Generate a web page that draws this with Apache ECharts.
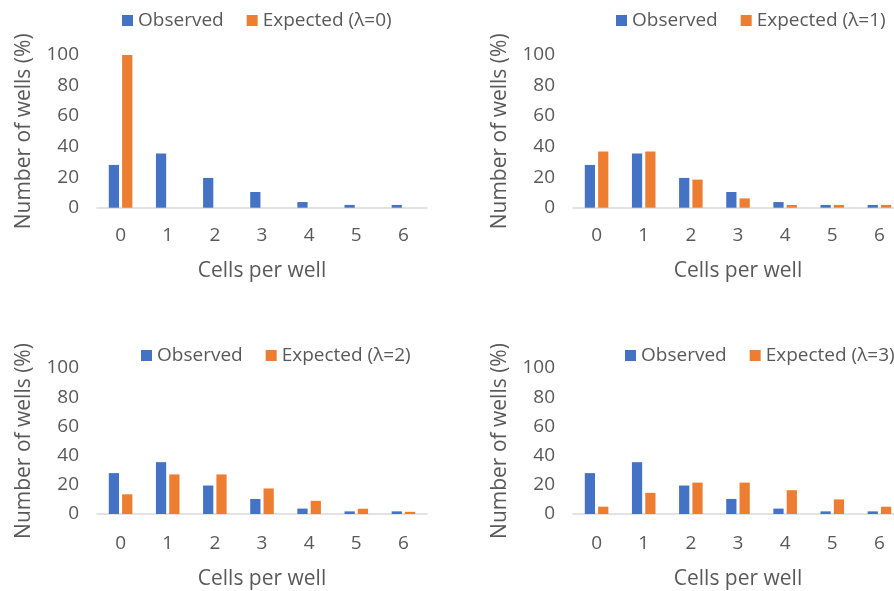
<!DOCTYPE html>
<html>
<head>
<meta charset="utf-8">
<script src="https://cdn.jsdelivr.net/npm/echarts@6/dist/echarts.min.js"></script>
<style>
html,body{margin:0;padding:0;background:#fff;overflow:hidden;width:894px;height:591px;}
#chart{width:912px;height:591px;}
</style>
</head>
<body>
<div id="chart"></div>
<script>
const categories = ['0', '1', '2', '3', '4', '5', '6'];
const observed = [28, 35.5, 19.5, 10.3, 3.7, 1.8, 1.8];
const expected0 = [100, 0, 0, 0, 0, 0, 0];
const expected1 = [36.8, 36.8, 18.4, 6.1, 1.8, 1.8, 1.8];
const expected2 = [13.5, 27.1, 27.1, 17.5, 9, 3.6, 1.5];
const expected3 = [5, 14.5, 21.5, 21.5, 16.3, 10, 5];
const expectedNames = ['Expected (λ=0)', 'Expected (λ=1)', 'Expected (λ=2)', 'Expected (λ=3)'];
const yTicks = [0, 20, 40, 60, 80, 100];
const xAxisName = 'Cells per well';
const yAxisName = 'Number of wells (%)';

const expectedAll = [expected0, expected1, expected2, expected3];
const FONT = '"Open Sans", sans-serif';
const TXT = '#595959';
const BLUE = '#4472C4';
const ORANGE = '#ED7D31';

const panels = [
  {left: 97, top: 55, legLeft: 117, legTop: 6, labMargin: 18, nameGap: 53},
  {left: 573, top: 55, legLeft: 611, legTop: 6, labMargin: 18, nameGap: 53},
  {left: 97, top: 368, legLeft: 136, legTop: 341, labMargin: 20, nameGap: 55},
  {left: 573, top: 368, legLeft: 620, legTop: 341, labMargin: 20, nameGap: 55}
];

const grid = [], xAxis = [], yAxis = [], series = [], legend = [];
panels.forEach((p, i) => {
  grid.push({left: p.left, top: p.top, width: 330, height: 152.7, containLabel: false});
  xAxis.push({
    type: 'category', gridIndex: i, data: categories,
    axisLine: {show: true, lineStyle: {color: '#D9D9D9', width: 1.5}},
    axisTick: {show: false},
    axisLabel: {color: TXT, fontSize: 19, fontFamily: FONT, margin: p.labMargin},
    name: xAxisName, nameLocation: 'middle', nameGap: p.nameGap,
    nameTextStyle: {color: TXT, fontSize: 21, fontFamily: FONT}
  });
  yAxis.push({
    type: 'value', gridIndex: i, min: yTicks[0], max: yTicks[yTicks.length - 1], interval: 20,
    splitLine: {show: false}, axisLine: {show: false}, axisTick: {show: false},
    axisLabel: {color: TXT, fontSize: 19, fontFamily: FONT, margin: 18},
    name: yAxisName, nameLocation: 'middle', nameGap: 62,
    nameTextStyle: {color: TXT, fontSize: 21, fontFamily: FONT}
  });
  const obsName = 'Observed';
  series.push({
    name: obsName, type: 'bar', xAxisIndex: i, yAxisIndex: i, data: observed,
    barGap: '30%', barCategoryGap: '50%',
    itemStyle: {color: BLUE}, emphasis: {disabled: true}
  });
  series.push({
    name: expectedNames[i], type: 'bar', xAxisIndex: i, yAxisIndex: i, data: expectedAll[i],
    barGap: '30%', barCategoryGap: '50%',
    itemStyle: {color: ORANGE}, emphasis: {disabled: true}
  });
  legend.push({
    left: p.legLeft, top: p.legTop, orient: 'horizontal', width: 400,
    data: [obsName, expectedNames[i]],
    itemWidth: 11, itemHeight: 11, itemGap: 23, icon: 'rect',
    textStyle: {color: TXT, fontSize: 19, fontFamily: FONT},
    selectedMode: false
  });
});

const chart = echarts.init(document.getElementById('chart'), null, {renderer: 'canvas'});
chart.setOption({
  animation: false,
  backgroundColor: '#fff',
  grid, xAxis, yAxis, series, legend
});
</script>
</body>
</html>
